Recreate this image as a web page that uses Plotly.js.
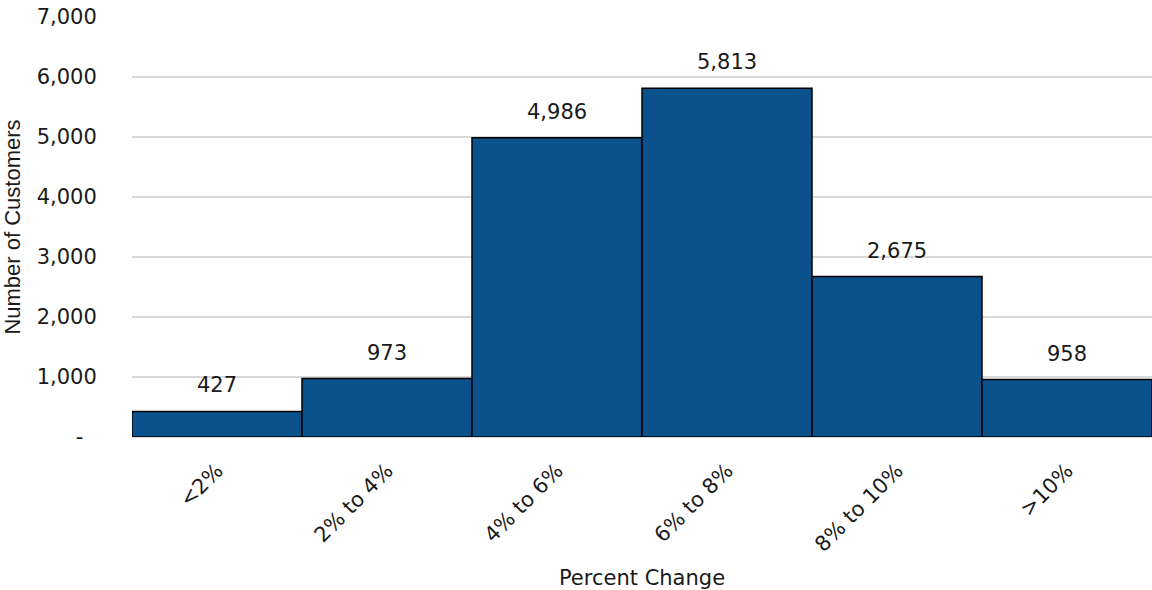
<!DOCTYPE html>
<html>
<head>
<meta charset="utf-8">
<script src="https://cdn.plot.ly/plotly-3.0.1.min.js"></script>
<style>html,body{margin:0;padding:0;background:#fff;}#chart{width:1152px;height:590px;}</style>
</head>
<body>
<div id="chart"></div>
<script>
const categories = ["<2%", "2% to 4%", "4% to 6%", "6% to 8%", "8% to 10%", ">10%"];
const customers = [427, 973, 4986, 5813, 2675, 958];
const yTickValues = [0, 1000, 2000, 3000, 4000, 5000, 6000, 7000];
const yTickLabels = ["-\u00a0\u00a0", "1,000", "2,000", "3,000", "4,000", "5,000", "6,000", "7,000"];

const font = {family: "DejaVu Sans, sans-serif", size: 21, color: "#1a1a1a"};
const yTitleFont = {family: "Liberation Sans, Arial, sans-serif", size: 22, color: "#1a1a1a"};

const trace = {
  type: "bar",
  x: categories,
  y: customers,
  width: 1,
  marker: {color: "#0B528C", line: {color: "#000", width: 1.5}},
  hoverinfo: "x+y"
};

const annotations = categories.map((c, i) => ({
  x: c, y: customers[i], xref: "x", yref: "y",
  text: customers[i].toLocaleString("en-US"),
  showarrow: false, yanchor: "bottom", yshift: 12,
  font: font
}));

const layout = {
  width: 1152, height: 590,
  margin: {l: 132, r: 0, t: 17, b: 153},
  paper_bgcolor: "#fff", plot_bgcolor: "#fff",
  font: font,
  showlegend: false,
  bargap: 0,
  xaxis: {
    type: "category",
    range: [-0.5, 5.5],
    tickangle: -45,
    ticks: "outside", ticklen: 12, tickcolor: "rgba(0,0,0,0)",
    showgrid: false, zeroline: false, showline: false,
    automargin: false,
    tickfont: font,
    title: {text: "Percent Change", font: font, standoff: 14}
  },
  yaxis: {
    range: [0, 7000],
    tickvals: yTickValues, ticktext: yTickLabels,
    ticks: "outside", ticklen: 30, tickcolor: "rgba(0,0,0,0)",
    showgrid: true, gridcolor: "#d9d9d9", gridwidth: 2,
    zeroline: true, zerolinecolor: "#d9d9d9", zerolinewidth: 2,
    showline: false,
    automargin: false,
    tickfont: font,
    title: {text: "Number of Customers", font: yTitleFont, standoff: 12}
  },
  annotations: annotations
};

Plotly.newPlot("chart", [trace], layout, {displayModeBar: false, staticPlot: true});
</script>
</body>
</html>
